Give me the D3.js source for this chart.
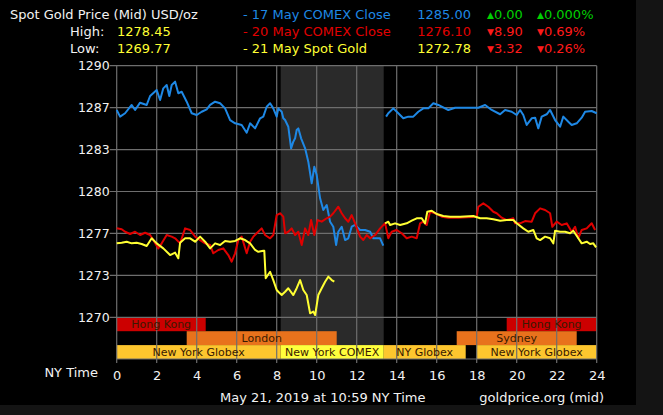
<!DOCTYPE html>
<html><head><meta charset="utf-8">
<script src="https://cdn.jsdelivr.net/npm/d3@7"></script>
<style>
html,body{margin:0;padding:0;background:#141414;overflow:hidden;}
svg{display:block;font-family:"DejaVu Sans",Verdana,sans-serif;}
</style></head><body><svg id="c" width="663" height="415"></svg>
<script>
// ---------- data ----------
const hourTicks = [0,2,4,6,8,10,12,14,16,18,20,22,24];
const priceTicks = [1290, 1286.667, 1283.333, 1280, 1276.667, 1273.333, 1270];
const priceTickLabels = ["1290","1287","1283","1280","1277","1273","1270"];

const seriesNames = ["17 May COMEX Close", "20 May COMEX Close", "21 May Spot Gold"];
const seriesCloses = ["1285.00", "1276.10", "1272.78"];
const seriesChanges = ["0.00", "8.90", "3.32"];
const seriesPct = ["0.000%", "0.69%", "0.26%"];
const seriesUp = [true, false, false];
const dayHigh = "1278.45";
const dayLow = "1269.77";

const sessionNames = ["Hong Kong","Hong Kong","London","Sydney","New York Globex","New York COMEX","NY Globex","New York Globex"];
const sessionStart = [0, 19.5, 3.5, 17, 0, 8.2, 13.35, 18];
const sessionEnd   = [4.45, 24, 11, 23, 8.2, 13.35, 17.45, 24];
const sessionRow   = [0, 0, 1, 1, 2, 2, 2, 2];
const sessionKind  = ["hk","hk","eu","eu","globex","comex","globex","globex"];
const comexShade = [8.2, 13.35];

// [hour, price]; null marks a gap
const may17 = [[0,1286.48],[0.17,1285.95],[0.42,1286.22],[0.75,1286.88],[0.92,1286.48],[1.17,1287.06],[1.5,1286.88],[1.67,1287.59],[2,1288.07],[2.17,1287.27],[2.33,1288.2],[2.5,1288.47],[2.63,1287.59],[2.75,1288.47],[2.92,1288.73],[3.08,1287.81],[3.25,1287.93],[3.5,1287.14],[3.75,1286.22],[4,1286.08],[4.25,1286.34],[4.5,1286.53],[4.67,1286.88],[4.92,1287.14],[5.17,1287.01],[5.42,1286.61],[5.67,1285.68],[5.92,1285.42],[6.25,1285.29],[6.5,1284.67],[6.67,1285.42],[6.92,1285.02],[7.17,1285.82],[7.33,1285.95],[7.5,1286.74],[7.67,1287.01],[7.83,1286.61],[8,1285.95],[8.08,1286.61],[8.25,1286.34],[8.33,1285.82],[8.42,1285.68],[8.58,1285.15],[8.72,1283.43],[8.83,1283.96],[8.92,1284.23],[9,1284.89],[9.08,1285.02],[9.22,1284.23],[9.42,1283.43],[9.58,1282.37],[9.75,1280.65],[9.88,1281.97],[10,1281.31],[10.17,1279.46],[10.33,1278.53],[10.5,1278.93],[10.67,1277.6],[10.83,1277.2],[10.97,1275.75],[11.08,1276.8],[11.25,1277.2],[11.42,1276.14],[11.58,1276.28],[11.75,1277.2],[11.92,1277.34],[12.17,1276.94],[12.42,1276.94],[12.67,1276.8],[12.83,1276.28],[13,1276.28],[13.17,1276.28],[13.33,1275.69],[13.4,null],[13.47,1285.95],[13.58,1286.22],[13.83,1286.61],[14.08,1286.22],[14.33,1285.82],[14.58,1285.95],[14.83,1285.95],[15.08,1286.34],[15.33,1286.61],[15.58,1286.61],[15.83,1287.01],[16.08,1286.88],[16.25,1286.74],[16.58,1286.48],[16.92,1286.66],[17.42,1286.66],[18.08,1286.66],[18.42,1286.88],[18.75,1286.48],[19.17,1286.14],[19.42,1286.48],[19.75,1286.34],[20,1286.08],[20.17,1286.48],[20.33,1286.08],[20.5,1285.29],[20.75,1285.82],[20.92,1285.87],[21.08,1285.02],[21.25,1285.95],[21.5,1286.14],[21.67,1286.48],[21.92,1285.68],[22.17,1285.15],[22.33,1285.95],[22.58,1285.55],[22.75,1285.29],[23,1285.42],[23.25,1285.87],[23.42,1286.34],[23.75,1286.4],[24,1286.22]];

const may20 = [[0,1277.07],[0.25,1277],[0.42,1276.8],[0.67,1276.62],[0.92,1276.8],[1.17,1276.54],[1.42,1276.72],[1.67,1276.54],[1.83,1276.14],[2.08,1275.48],[2.25,1275.88],[2.5,1276.54],[2.75,1276.41],[2.92,1276.28],[3.17,1275.88],[3.42,1277.07],[3.67,1276.94],[3.92,1276.41],[4.17,1276.14],[4.42,1275.88],[4.67,1275.75],[4.83,1275.09],[5.08,1275.35],[5.33,1275.48],[5.58,1274.95],[5.75,1274.42],[5.92,1275.09],[6.08,1276.14],[6.25,1276.41],[6.5,1275.09],[6.67,1276.01],[6.83,1276.41],[7,1276.68],[7.25,1277.07],[7.42,1276.54],[7.67,1276.28],[7.83,1276.54],[8,1278.13],[8.17,1278.27],[8.33,1278],[8.42,1276.68],[8.58,1276.8],[8.75,1277.07],[8.92,1276.54],[9.08,1276.8],[9.25,1275.75],[9.42,1277.07],[9.58,1276.54],[9.72,1277.73],[9.88,1276.54],[10.05,1277.73],[10.25,1277.6],[10.5,1277.87],[10.67,1278],[10.83,1278.27],[11.08,1278.79],[11.25,1278.27],[11.42,1277.87],[11.58,1277.6],[11.75,1278.13],[11.92,1277.47],[12.17,1276.41],[12.33,1276.14],[12.5,1276.54],[12.67,1276.28],[12.92,1276.54],[13.17,1277.07],[13.42,1277.47],[13.58,1276.28],[13.75,1276.8],[14,1276.94],[14.25,1276.68],[14.5,1276.28],[14.75,1276.41],[15,1276.28],[15.17,1277.47],[15.33,1277.6],[15.5,1277.34],[15.67,1278.39],[15.92,1278.27],[16.25,1278],[16.58,1277.92],[17.08,1277.92],[18,1278],[18.08,1278.79],[18.33,1279.06],[18.58,1278.79],[18.83,1278.39],[19,1278.27],[19.25,1277.92],[19.5,1277.73],[19.83,1277.87],[19.92,1277.47],[20.17,1277.47],[20.42,1277.65],[20.75,1277.6],[20.92,1278.27],[21.17,1278.66],[21.42,1278.53],[21.67,1278.27],[21.78,1277.2],[22,1277.6],[22.25,1277.34],[22.5,1277.47],[22.75,1276.8],[22.92,1277.2],[23.08,1276.28],[23.25,1276.94],[23.5,1277.07],[23.75,1277.47],[23.92,1276.94]];

const may21 = [[0,1275.88],[0.25,1275.93],[0.5,1276.01],[0.75,1275.88],[1,1275.93],[1.25,1275.83],[1.5,1275.67],[1.75,1276.28],[2,1275.88],[2.33,1275.48],[2.67,1274.95],[2.92,1275.14],[3.08,1274.69],[3.17,1275.93],[3.42,1276.28],[3.67,1276.28],[3.92,1276.01],[4.17,1276.41],[4.42,1276.01],[4.67,1275.48],[4.92,1275.88],[5.17,1275.75],[5.42,1276.07],[5.67,1276.01],[5.92,1276.07],[6.17,1276.28],[6.42,1276.14],[6.67,1275.88],[6.92,1275.35],[7.08,1275.21],[7.33,1275.29],[7.38,1275.29],[7.45,1273.1],[7.67,1273.62],[7.83,1272.96],[8,1272.17],[8.08,1272.03],[8.25,1271.77],[8.42,1272.03],[8.58,1272.31],[8.83,1271.77],[9,1272.31],[9.17,1272.96],[9.33,1272.17],[9.5,1271.77],[9.67,1270.32],[9.83,1270.45],[9.92,1270.18],[10.08,1271.77],[10.25,1272.31],[10.42,1272.83],[10.58,1273.23],[10.75,1272.96],[10.88,1272.83],[11,null],[13.42,1277.47],[13.58,1277.6],[13.67,1277.34],[13.92,1277.47],[14.17,1277.34],[14.5,1277.47],[14.75,1277.68],[15,1277.87],[15.25,1277.87],[15.42,1277.47],[15.53,1278.39],[15.75,1278.47],[16,1278.21],[16.33,1278.05],[16.67,1278],[17.17,1278],[17.83,1278.05],[18.17,1277.87],[18.5,1277.87],[18.83,1277.79],[19.17,1277.68],[19.5,1277.73],[19.83,1277.73],[20,1277.47],[20.33,1277.07],[20.58,1276.8],[20.83,1276.94],[21,1276.28],[21.17,1276.14],[21.42,1276.41],[21.67,1276.28],[21.83,1275.88],[21.92,1276.88],[22.17,1276.8],[22.42,1276.8],[22.67,1276.68],[22.83,1276.88],[23.08,1276.28],[23.25,1275.88],[23.5,1276.01],[23.67,1275.83],[23.83,1275.88],[23.97,1275.56]];

// ---------- styles ----------
const seriesColors = ["#1e88e5", "#e00000", "#ffff33"];
const kindColors = {hk:"#cc0000", eu:"#e8721c", globex:"#fdc62e", comex:"#ffff3c"};
const gridColor = "#6e6e6e";

// ---------- chart ----------
const svg = d3.select("#c");
svg.append("rect").attr("x",0).attr("y",0).attr("width",636).attr("height",405).attr("fill","#000");

const x = d3.scaleLinear().domain([0,24]).range([116.7, 596.7]);
const y = d3.scaleLinear().domain([1270,1290]).range([317.3, 65.7]);
const row = d3.scaleBand().domain([0,1,2]).range([317.3, 359]);
const bottomY = 359;

// COMEX shading
svg.append("rect")
  .attr("x", x(comexShade[0])).attr("y", y(1290))
  .attr("width", x(comexShade[1]) - x(comexShade[0]))
  .attr("height", bottomY - y(1290))
  .attr("fill", "#2a2a2a");

// session bars
const sess = sessionNames.map((n,i)=>({n, s:sessionStart[i], e:sessionEnd[i], r:sessionRow[i], k:sessionKind[i]}));
svg.append("g").selectAll("rect").data(sess).join("rect")
  .attr("x", d=>x(d.s)).attr("width", d=>x(d.e)-x(d.s))
  .attr("y", d=>row(d.r)).attr("height", row.bandwidth())
  .attr("fill", d=>kindColors[d.k]);

// grid
const grid = svg.append("g").attr("stroke", gridColor).attr("stroke-width", 1.2);
grid.selectAll(".h").data(priceTicks).join("line")
  .attr("x1", x(0)-7).attr("x2", x(24))
  .attr("y1", d=>y(d)).attr("y2", d=>y(d));
grid.selectAll(".v").data(hourTicks).join("line")
  .attr("x1", d=>x(d)).attr("x2", d=>x(d))
  .attr("y1", y(1290)).attr("y2", bottomY+4);
grid.append("line").attr("x1", x(0)).attr("x2", x(24)).attr("y1", bottomY).attr("y2", bottomY);

// session labels
svg.append("g").selectAll("text").data(sess).join("text")
  .attr("x", d=>(x(d.s)+x(d.e))/2)
  .attr("y", d=>row(d.r)+row.bandwidth()/2+4)
  .attr("text-anchor","middle")
  .attr("font-size","11px")
  .attr("fill","#3a1a00")
  .text(d=>d.n);

// y axis labels via d3 axis
const yAxis = d3.axisLeft(y).tickValues(priceTicks)
  .tickFormat((d,i)=>priceTickLabels[i]).tickSize(0).tickPadding(7);
const ya = svg.append("g").attr("transform", `translate(${x(0)},0)`).call(yAxis);
ya.select(".domain").remove();
ya.selectAll("text").attr("fill","#f2f2f2").attr("font-size","12.5px")
  .attr("font-family","'DejaVu Sans',Verdana,sans-serif");

// x axis labels via d3 axis
const xAxis = d3.axisBottom(x).tickValues(hourTicks).tickSize(0).tickPadding(8);
const xa = svg.append("g").attr("transform", `translate(0,${bottomY+4})`).call(xAxis);
xa.select(".domain").remove();
xa.selectAll("text").attr("fill","#f2f2f2").attr("font-size","13px")
  .attr("font-family","'DejaVu Sans',Verdana,sans-serif");
svg.append("text").attr("x", 98).attr("y", 377).attr("text-anchor","end")
  .attr("fill","#f2f2f2").attr("font-size","13px").text("NY Time");

// series lines
const line = d3.line().defined(d=>d[1]!==null).x(d=>x(d[0])).y(d=>y(d[1]));
[may17, may20, may21].forEach((s,i)=>{
  svg.append("path").datum(s).attr("d", line)
    .attr("fill","none").attr("stroke", seriesColors[i])
    .attr("stroke-width", 2).attr("stroke-linejoin","round");
});

// header
const head = svg.append("g").attr("font-size","13px");
head.append("text").attr("x",10).attr("y",19).attr("fill","#f2f2f2").text("Spot Gold Price (Mid) USD/oz");
head.append("text").attr("x",70).attr("y",36).attr("fill","#f2f2f2").text("High:");
head.append("text").attr("x",117).attr("y",36).attr("fill","#ffff33").text(dayHigh);
head.append("text").attr("x",70).attr("y",53).attr("fill","#f2f2f2").text("Low:");
head.append("text").attr("x",117).attr("y",53).attr("fill","#ffff33").text(dayLow);
const lineY = [19,36,53];
seriesNames.forEach((n,i)=>{
  head.append("text").attr("x",243).attr("y",lineY[i]).attr("fill",seriesColors[i]).text("- " + n);
  head.append("text").attr("x",471).attr("y",lineY[i]).attr("text-anchor","end").attr("fill",seriesColors[i]).text(seriesCloses[i]);
  const c = seriesUp[i] ? "#00d000" : "#ff1a1a";
  const sym = seriesUp[i] ? "\u25B2" : "\u25BC";
  const t1 = head.append("text").attr("x",487).attr("y",lineY[i]).attr("fill",c);
  t1.append("tspan").attr("font-size","9px").attr("dy","-1").text(sym);
  t1.append("tspan").attr("dy","1").text(seriesChanges[i]);
  const t2 = head.append("text").attr("x",537).attr("y",lineY[i]).attr("fill",c);
  t2.append("tspan").attr("font-size","9px").attr("dy","-1").text(sym);
  t2.append("tspan").attr("dy","1").text(seriesPct[i]);
});

// footer
svg.append("text").attr("x",220).attr("y",402).attr("fill","#f2f2f2").attr("font-size","13px")
  .text("May 21, 2019 at 10:59 NY Time");
svg.append("text").attr("x",604).attr("y",402).attr("text-anchor","end").attr("fill","#f2f2f2").attr("font-size","13px")
  .text("goldprice.org (mid)");
</script></body></html>
